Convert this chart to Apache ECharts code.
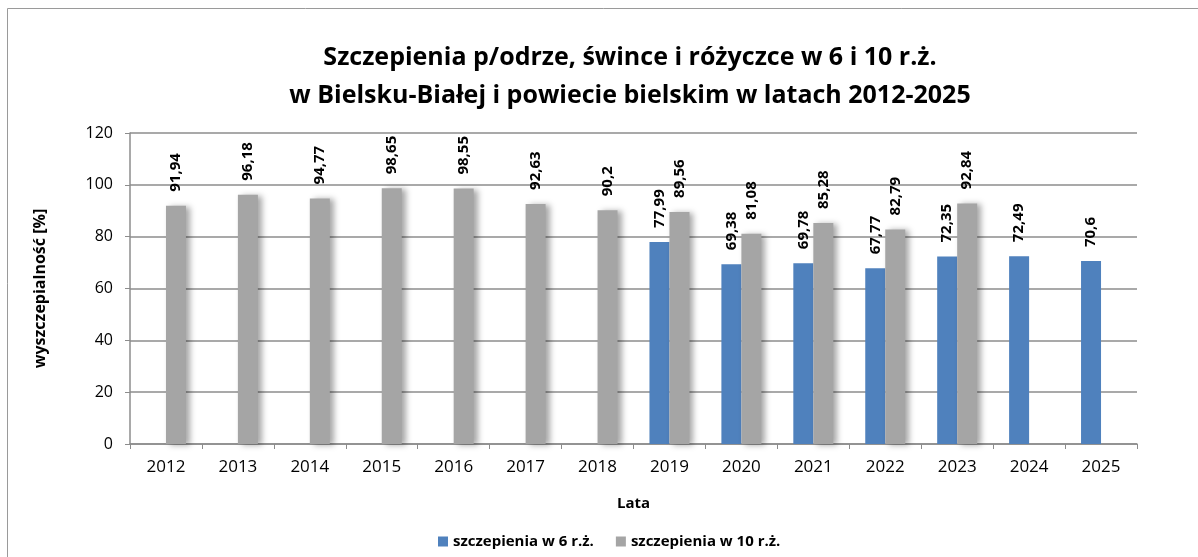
<!DOCTYPE html>
<html>
<head>
<meta charset="utf-8">
<script src="https://cdn.jsdelivr.net/npm/echarts@6/dist/echarts.min.js"></script>
<style>
    html, body { margin: 0; padding: 0; background: #fff; }
    #chart { width: 1198px; height: 557px; }
</style>
</head>
<body>
<div id="chart"></div>
<script>
// lata
const years = ['2012', '2013', '2014', '2015', '2016', '2017', '2018', '2019', '2020', '2021', '2022', '2023', '2024', '2025'];
// szczepienia w 6 r.ż.
const vacc6 = [null, null, null, null, null, null, null, 77.99, 69.38, 69.78, 67.77, 72.35, 72.49, 70.6];
// szczepienia w 10 r.ż.
const vacc10 = [91.94, 96.18, 94.77, 98.65, 98.55, 92.63, 90.2, 89.56, 81.08, 85.28, 82.79, 92.84, null, null];
const yTicks = [0, 20, 40, 60, 80, 100, 120];

const font = '"Open Sans", "Noto Sans", sans-serif';
const gridColor = '#8c8c8c';

const label = {
    show: true,
    position: 'top',
    rotate: 90,
    align: 'left',
    verticalAlign: 'middle',
    distance: 14,
    color: '#000',
    fontFamily: font,
    fontWeight: 'bold',
    fontSize: 15,
    formatter: (p) => String(p.value).replace('.', ',')
};

const chart = echarts.init(document.getElementById('chart'));
chart.setOption({
    animation: false,
    textStyle: { fontFamily: font },
    graphic: [
        {
            type: 'rect',
            shape: { x: 7.5, y: 8.5, width: 1400, height: 800 },
            style: { fill: 'none', stroke: '#9a9a9a', lineWidth: 1 },
            silent: true
        }
    ],
    title: {
        text: 'Szczepienia p/odrze, śwince i różyczce w 6 i 10 r.ż.\nw Bielsku-Białej i powiecie bielskim w latach 2012-2025',
        left: 625,
        top: 34,
        textAlign: 'center',
        textStyle: {
            fontFamily: font,
            fontWeight: 'bold',
            fontSize: 25,
            lineHeight: 38,
            color: '#000'
        }
    },
    legend: {
        left: 433,
        top: 529,
        itemWidth: 10,
        itemHeight: 10,
        itemGap: 22,
        icon: 'rect',
        textStyle: { fontFamily: font, fontWeight: 'bold', fontSize: 15, color: '#000' },
        data: ['szczepienia w 6 r.ż.', 'szczepienia w 10 r.ż.']
    },
    grid: { left: 130, right: 61, top: 133, bottom: 113 },
    xAxis: {
        type: 'category',
        data: years,
        name: 'Lata',
        nameLocation: 'middle',
        nameGap: 52,
        nameTextStyle: { fontFamily: font, fontWeight: 'bold', fontSize: 15, color: '#000' },
        axisLine: { lineStyle: { color: gridColor, width: 1.5 } },
        axisTick: { show: true, interval: 0, length: 5, lineStyle: { color: gridColor } },
        axisLabel: { color: '#000', fontSize: 17, fontFamily: font, margin: 15, interval: 0 }
    },
    yAxis: {
        type: 'value',
        min: yTicks[0],
        max: yTicks[yTicks.length - 1],
        interval: 20,
        name: 'wyszczepialność [%]',
        nameLocation: 'middle',
        nameGap: 82,
        nameTextStyle: { fontFamily: font, fontWeight: 'bold', fontSize: 16, color: '#000' },
        axisLine: { show: true, lineStyle: { color: gridColor, width: 1.5 } },
        axisTick: { show: true, length: 5, lineStyle: { color: gridColor } },
        axisLabel: { color: '#000', fontSize: 16, fontFamily: font, margin: 17 },
        splitLine: { lineStyle: { color: gridColor, width: 1.5 } }
    },
    series: [
        {
            name: 'szczepienia w 6 r.ż.',
            type: 'bar',
            data: vacc6,
            barWidth: 20,
            barGap: '0%',
            itemStyle: { color: '#4f81bd' },
            label: label
        },
        {
            name: 'szczepienia w 10 r.ż.',
            type: 'bar',
            data: vacc10,
            barWidth: 20,
            itemStyle: {
                color: '#a5a5a5',
                shadowColor: 'rgba(0,0,0,0.35)',
                shadowBlur: 6,
                shadowOffsetX: 4,
                shadowOffsetY: 1
            },
            label: label
        }
    ]
});
</script>
</body>
</html>
